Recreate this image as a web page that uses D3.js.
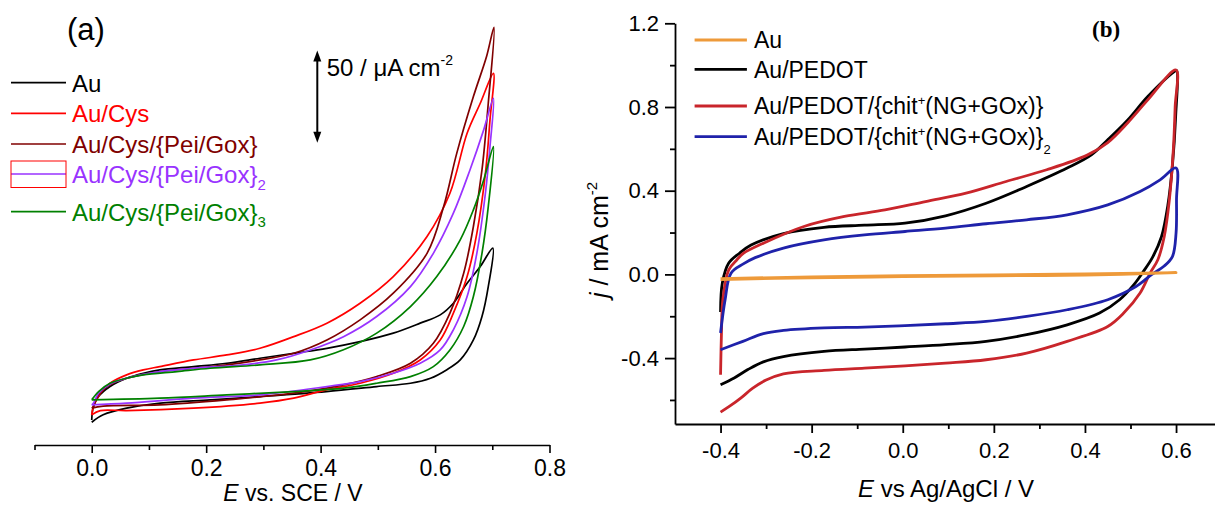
<!DOCTYPE html>
<html>
<head>
<meta charset="utf-8">
<script src="https://cdnjs.cloudflare.com/ajax/libs/d3/7.8.5/d3.min.js"></script>
<style>
  body { margin: 0; background: #fff; }
  text { font-family: "Liberation Sans", Arial, sans-serif; fill: #000; }
</style>
</head>
<body>
<script>
// ---- panel (a): E / V vs SCE, j / uA cm-2 (no y axis, only a scale bar)
var auA = [[0,-1.2],[0.02,2.8],[0.061,6.4],[0.12,9.1],[0.207,10.9],[0.294,12.7],[0.41,15.4],[0.498,18.1],[0.557,19.9],[0.592,22.6],[0.62,27.1],[0.644,32.5],[0.667,43.3],[0.682,56],[0.693,72.2],[0.701,93],
  [0.679,83],[0.656,74],[0.632,63.2],[0.609,56.9],[0.574,52.4],[0.527,47],[0.469,42.4],[0.411,38.8],[0.353,36.1],[0.294,33.4],[0.236,30.7],[0.178,28.9],[0.119,27.1],[0.09,25.3],[0.061,22.6],[0.032,18.1],[0.012,12.7],[0.003,7.3],[0,0]];
var cysA = [[0,2.8],[0.015,5.1],[0.061,5.1],[0.178,6.4],[0.294,9.1],[0.353,11.8],[0.41,16.3],[0.469,19.9],[0.527,25.3],[0.574,32.5],[0.609,43.3],[0.632,57.8],[0.656,77.6],[0.673,101],[0.688,133.5],[0.696,162.4],[0.702,187.6],
  [0.679,171.4],[0.656,155.2],[0.626,122.7],[0.586,99.3],[0.527,77.6],[0.469,63.2],[0.411,52.4],[0.353,45.1],[0.294,38.8],[0.236,35.2],[0.178,32.5],[0.119,28.9],[0.09,27.1],[0.061,24.4],[0.032,19.9],[0.015,14.5],[0.003,7.3],[0,2.8]];
var pei1A = [[0,6.4],[0.02,7.5],[0.119,8.2],[0.236,10.9],[0.353,14.5],[0.44,19],[0.498,23.5],[0.557,30.7],[0.597,41.5],[0.626,57.8],[0.65,79.4],[0.667,104.7],[0.682,135.3],[0.693,171.4],[0.703,212.5],
  [0.69,196.7],[0.667,175],[0.638,144.4],[0.615,115.5],[0.586,90.2],[0.527,68.6],[0.469,54.2],[0.411,43.3],[0.353,36.1],[0.294,32.5],[0.236,29.8],[0.178,28],[0.119,26.2],[0.061,22.6],[0.032,19],[0.012,13.6],[0.003,7.3],[0,6.4]];
var pei2A = [[0,8.2],[0.061,9.1],[0.178,11.8],[0.294,13.6],[0.411,18.1],[0.469,20.8],[0.527,25.3],[0.574,30.7],[0.609,37.9],[0.632,48.8],[0.656,66.8],[0.673,90.2],[0.688,122.7],[0.696,148],[0.702,174.1],
  [0.685,157],[0.661,135.3],[0.632,111.9],[0.597,90.2],[0.557,72.2],[0.498,56],[0.44,45.1],[0.382,37.9],[0.323,32.5],[0.265,29.8],[0.178,28],[0.119,26.2],[0.061,22.6],[0.032,19.5],[0.012,14.5],[0.003,9.1],[0,8.2]];
var pei3A = [[0,10.9],[0.119,11.8],[0.236,13.6],[0.353,15.4],[0.44,17.2],[0.498,19.9],[0.557,23.5],[0.597,28.9],[0.626,37.9],[0.65,50.6],[0.667,66.8],[0.682,90.2],[0.693,115.5],[0.702,148],
  [0.685,129.9],[0.667,113.7],[0.644,97.5],[0.603,77.6],[0.557,61.4],[0.498,47],[0.44,38],[0.382,32.5],[0.294,29.8],[0.207,28],[0.149,26.2],[0.09,24.4],[0.061,22.6],[0.032,19.9],[0.012,15.4],[0,10.9]];
var scaleBarA = [150, 200];
var ticksAx = [0, 0.2, 0.4, 0.6, 0.8];
var minorAx = [-0.1, 0.1, 0.3, 0.5, 0.7];

// ---- panel (b): E / V vs Ag/AgCl, j / mA cm-2
var auB = [[-0.4,-0.02],[-0.2,-0.012],[0,-0.006],[0.2,-0.002],[0.4,0.002],[0.6,0.008],[0.4,-0.003],[0.2,-0.007],[0,-0.011],[-0.2,-0.016],[-0.4,-0.025]];
var pedotB = [[-0.4,-0.18],[-0.396,-0.04],[-0.382,0.054],[-0.359,0.1],[-0.333,0.14],[-0.262,0.195],[-0.173,0.225],[-0.084,0.235],[0.005,0.245],[0.094,0.28],[0.183,0.34],[0.272,0.42],[0.361,0.508],[0.414,0.571],[0.45,0.643],[0.494,0.738],[0.538,0.85],[0.596,0.969],[0.601,0.975],
  [0.599,0.75],[0.592,0.52],[0.582,0.33],[0.568,0.18],[0.548,0.08],[0.527,0.01],[0.507,-0.05],[0.476,-0.121],[0.432,-0.185],[0.361,-0.241],[0.272,-0.288],[0.183,-0.32],[0.094,-0.336],[0.005,-0.347],[-0.084,-0.357],[-0.173,-0.368],[-0.262,-0.393],[-0.306,-0.418],[-0.34,-0.455],[-0.37,-0.495],[-0.4,-0.527]];
var chit1B = [[-0.4,-0.48],[-0.398,-0.28],[-0.395,-0.121],[-0.382,0.022],[-0.364,0.07],[-0.35,0.1],[-0.306,0.149],[-0.217,0.229],[-0.128,0.277],[-0.039,0.308],[0.05,0.348],[0.139,0.388],[0.227,0.444],[0.316,0.5],[0.405,0.57],[0.45,0.63],[0.494,0.725],[0.538,0.834],[0.6,0.977],
  [0.598,0.8],[0.594,0.595],[0.585,0.35],[0.574,0.18],[0.56,0.07],[0.543,0.006],[0.521,-0.089],[0.485,-0.185],[0.45,-0.249],[0.361,-0.32],[0.272,-0.376],[0.183,-0.408],[0.094,-0.424],[0.005,-0.437],[-0.084,-0.448],[-0.173,-0.459],[-0.262,-0.475],[-0.3,-0.505],[-0.33,-0.545],[-0.355,-0.59],[-0.38,-0.63],[-0.4,-0.658]];
var chit2B = [[-0.4,-0.28],[-0.39,-0.121],[-0.377,0.006],[-0.35,0.05],[-0.324,0.08],[-0.262,0.126],[-0.173,0.165],[-0.084,0.189],[0.005,0.205],[0.094,0.221],[0.183,0.242],[0.272,0.261],[0.361,0.285],[0.45,0.332],[0.521,0.396],[0.565,0.452],[0.6,0.508],
  [0.601,0.356],[0.6,0.197],[0.592,0.085],[0.574,0.04],[0.547,0.0],[0.512,-0.058],[0.45,-0.121],[0.361,-0.169],[0.272,-0.201],[0.183,-0.225],[0.094,-0.236],[0.005,-0.245],[-0.084,-0.252],[-0.173,-0.256],[-0.262,-0.268],[-0.306,-0.283],[-0.351,-0.32],[-0.4,-0.36]];
var ticksBx = [-0.4, -0.2, 0, 0.2, 0.4, 0.6];
var minorBx = [-0.3, -0.1, 0.1, 0.3, 0.5];
var ticksBy = [-0.4, 0, 0.4, 0.8, 1.2];
var minorBy = [-0.6, -0.2, 0.2, 0.6, 1.0];

var svg = d3.select("body").append("svg")
    .attr("width", 1215)
    .attr("height", 506);

var fmt = function(d) { return d.toFixed(1); };

// ---------- panel (a)
var xA = d3.scaleLinear().domain([-0.1, 0.8]).range([34.5, 549.5]);
var yA = d3.scaleLinear().domain([0, 50]).range([420, 327.6]);

var seriesA = [
  {data: auA, color: "#000000", label: "Au"},
  {data: cysA, color: "#ff0000", label: "Au/Cys"},
  {data: pei1A, color: "#800000", label: "Au/Cys/{Pei/Gox}"},
  {data: pei2A, color: "#9933ff", label: "Au/Cys/{Pei/Gox}", sub: "2"},
  {data: pei3A, color: "#008000", label: "Au/Cys/{Pei/Gox}", sub: "3"}
];

var lineA = d3.line()
    .x(function(d) { return xA(d[0]); })
    .y(function(d) { return yA(d[1]); })
    .curve(d3.curveCatmullRom.alpha(0.5));

svg.append("g").selectAll("path")
  .data(seriesA)
  .enter().append("path")
    .attr("d", function(d) { return lineA(d.data); })
    .attr("fill", "none")
    .attr("stroke", function(d) { return d.color; })
    .attr("stroke-width", 1.7);

var axA = svg.append("g").attr("transform", "translate(0,445)");
axA.call(d3.axisBottom(xA).tickValues(ticksAx).tickSize(8).tickSizeOuter(0).tickPadding(7)
    .tickFormat(fmt));
axA.append("g").call(d3.axisBottom(xA).tickValues(minorAx).tickSize(5).tickFormat(""))
    .select(".domain").remove();
axA.selectAll("path, line").attr("stroke", "#000").attr("stroke-width", 1.6);
axA.selectAll("text").style("font-size", "23px").attr("font-family", null);

var titA = svg.append("text").attr("x", 293).attr("y", 501)
    .attr("text-anchor", "middle").style("font-size", "23px");
titA.append("tspan").style("font-style", "italic").text("E");
titA.append("tspan").text(" vs. SCE / V");

svg.append("text").attr("x", 67).attr("y", 40).style("font-size", "31px").text("(a)");

// legend (a)
var legA = svg.append("g").selectAll("g")
  .data(seriesA)
  .enter().append("g")
    .attr("transform", function(d, i) { return "translate(0," + [82.7, 113.3, 144, 174, 211.7][i] + ")"; });
legA.append("line").attr("x1", 11).attr("x2", 66)
    .attr("stroke", function(d) { return d.color; }).attr("stroke-width", 1.7);
var legAText = legA.append("text").attr("x", 72).attr("y", 8.8)
    .style("font-size", "24px")
    .style("fill", function(d) { return d.color; });
legAText.append("tspan").text(function(d) { return d.label; });
legAText.append("tspan").attr("dy", 7).style("font-size", "15px")
    .text(function(d) { return d.sub || ""; });
svg.append("rect").attr("x", 11).attr("y", 161).attr("width", 55).attr("height", 26.5)
    .attr("fill", "none").attr("stroke", "#ff0000").attr("stroke-width", 1);

// scale bar
var barX = 317.3;
svg.append("line").attr("x1", barX).attr("x2", barX)
    .attr("y1", yA(scaleBarA[1]) + 6).attr("y2", yA(scaleBarA[0]) - 6)
    .attr("stroke", "#000").attr("stroke-width", 2);
svg.append("path")
    .attr("d", "M" + barX + "," + yA(scaleBarA[1]) + "l-4,11h8z")
    .attr("fill", "#000");
svg.append("path")
    .attr("d", "M" + barX + "," + yA(scaleBarA[0]) + "l-4,-11h8z")
    .attr("fill", "#000");
var barT = svg.append("text").attr("x", 326.7).attr("y", 76).style("font-size", "24px");
barT.append("tspan").text("50 / \u03bcA cm");
barT.append("tspan").attr("dy", -11).style("font-size", "14px").text("-2");

// ---------- panel (b)
var xB = d3.scaleLinear().domain([-0.5, 0.7]).range([675, 1221.6]);
var yB = d3.scaleLinear().domain([-0.715, 1.2]).range([424, 23.3]);

var seriesB = [
  {data: pedotB, color: "#000000"},
  {data: chit1B, color: "#c9252b"},
  {data: chit2B, color: "#1f22aa"},
  {data: auB, color: "#ee9a3a"}
];

var lineB = d3.line()
    .x(function(d) { return xB(d[0]); })
    .y(function(d) { return yB(d[1]); })
    .curve(d3.curveCatmullRom.alpha(0.5));

svg.append("g").selectAll("path")
  .data(seriesB)
  .enter().append("path")
    .attr("d", function(d) { return lineB(d.data); })
    .attr("fill", "none")
    .attr("stroke", function(d) { return d.color; })
    .attr("stroke-width", 2.8)
    .attr("stroke-linejoin", "round");

var axBx = svg.append("g").attr("transform", "translate(0,424)");
axBx.call(d3.axisBottom(xB).tickValues(ticksBx).tickSize(9).tickSizeOuter(0).tickPadding(9)
    .tickFormat(fmt));
axBx.append("g").call(d3.axisBottom(xB).tickValues(minorBx).tickSize(5).tickFormat(""))
    .select(".domain").remove();

var axBy = svg.append("g").attr("transform", "translate(675,0)");
axBy.call(d3.axisLeft(yB).tickValues(ticksBy).tickSize(10).tickSizeOuter(0).tickPadding(6)
    .tickFormat(fmt));
axBy.append("g").call(d3.axisLeft(yB).tickValues(minorBy).tickSize(5).tickFormat(""))
    .select(".domain").remove();

[axBx, axBy].forEach(function(a) {
  a.selectAll("path, line").attr("stroke", "#000").attr("stroke-width", 1.8);
  a.selectAll("text").style("font-size", "22px").attr("font-family", null);
});

var titB = svg.append("text").attr("x", 946).attr("y", 497)
    .attr("text-anchor", "middle").style("font-size", "24px");
titB.append("tspan").style("font-style", "italic").text("E");
titB.append("tspan").text(" vs Ag/AgCl / V");

var ylabB = svg.append("text")
    .attr("transform", "translate(608,240) rotate(-90)")
    .attr("text-anchor", "middle").style("font-size", "25px");
ylabB.append("tspan").style("font-style", "italic").text("j");
ylabB.append("tspan").text(" / mA cm");
ylabB.append("tspan").attr("dy", -11).style("font-size", "15px").text("-2");

svg.append("text").attr("x", 1092).attr("y", 37)
    .style("font-family", "'Liberation Serif', 'Times New Roman', serif")
    .style("font-weight", "bold").style("font-size", "23px").text("(b)");

// legend (b)
var legendB = [
  {color: "#ee9a3a", y: 40, parts: [["Au", 0]]},
  {color: "#000000", y: 69.3, parts: [["Au/PEDOT", 0]]},
  {color: "#c9252b", y: 106, parts: [["Au/PEDOT/{chit", 0], ["+", -1], ["(NG+GOx)}", 0]]},
  {color: "#1f22aa", y: 136.7, parts: [["Au/PEDOT/{chit", 0], ["+", -1], ["(NG+GOx)}", 0], ["2", 1]]}
];
var legB = svg.append("g").selectAll("g")
  .data(legendB)
  .enter().append("g")
    .attr("transform", function(d) { return "translate(0," + d.y + ")"; });
legB.append("line").attr("x1", 694.6).attr("x2", 746.9)
    .attr("stroke", function(d) { return d.color; }).attr("stroke-width", 2.8);
legB.append("text").attr("x", 754).attr("y", 8.3)
    .style("font-size", "23px")
    .each(function(d) {
      var t = d3.select(this), shift = 0;
      d.parts.forEach(function(p) {
        var dy = p[1] * 9 - shift;
        shift = p[1] * 9;
        t.append("tspan").attr("dy", dy)
          .style("font-size", p[1] ? "13px" : "23px")
          .text(p[0]);
      });
    });
</script>
</body>
</html>
